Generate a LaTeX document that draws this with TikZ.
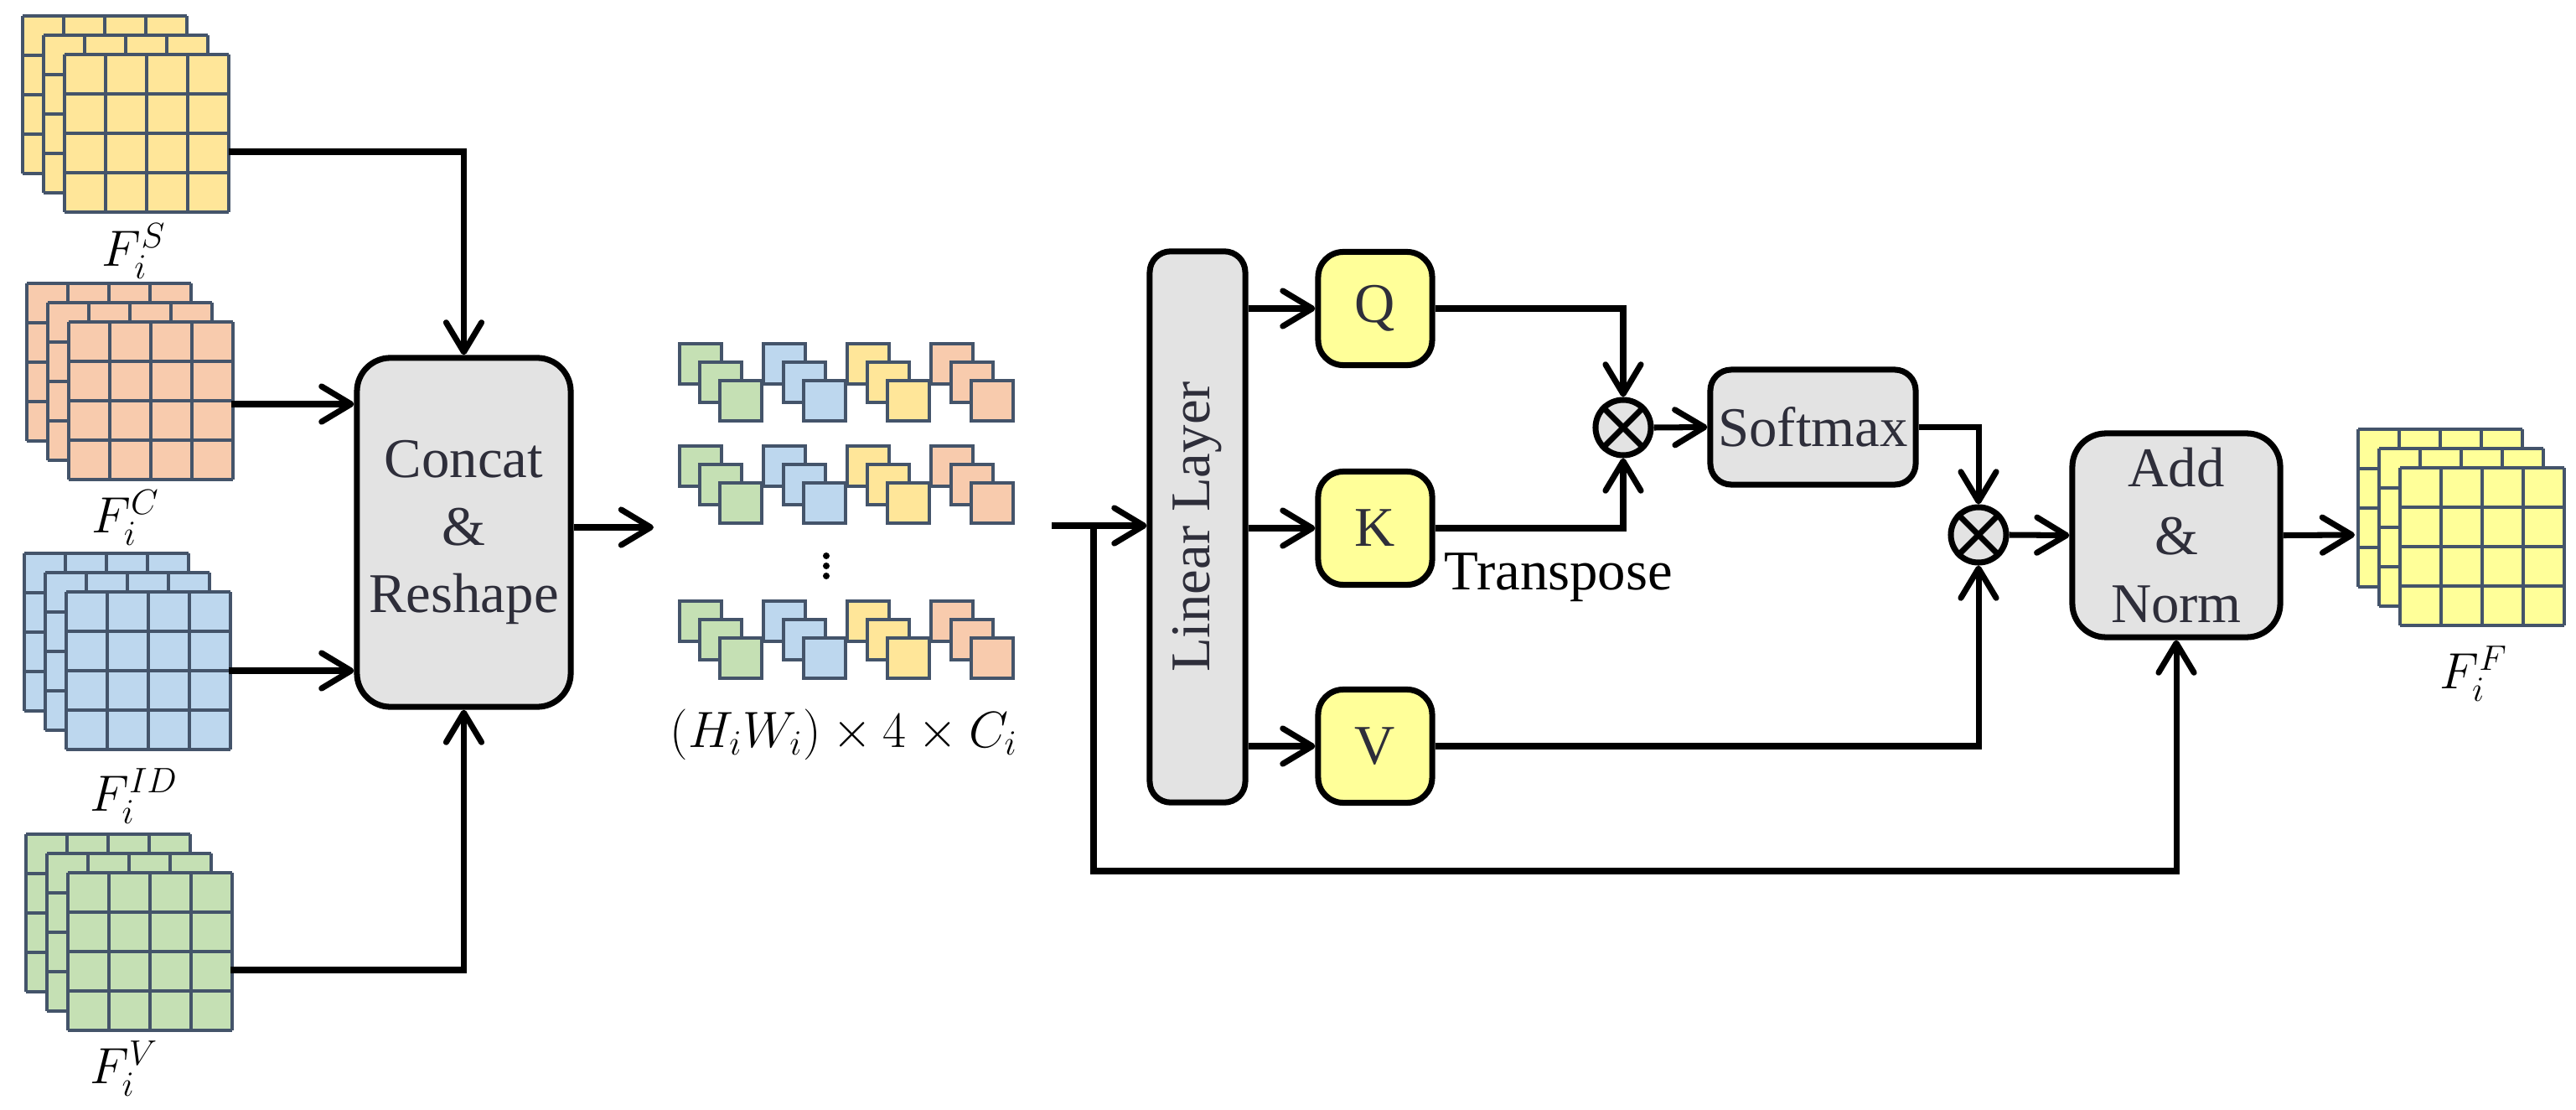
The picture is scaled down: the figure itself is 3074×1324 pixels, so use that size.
\documentclass[tikz,border=0pt]{standalone}
\usepackage{fontspec}
\setmainfont{Liberation Serif}
\newfontfamily\tnr{Liberation Serif}
\usetikzlibrary{arrows.meta}
\definecolor{edge}{HTML}{44546A}
\definecolor{cy}{HTML}{FFE699}
\definecolor{co}{HTML}{F8CBAD}
\definecolor{cb}{HTML}{BDD7EE}
\definecolor{cg}{HTML}{C5E0B4}
\definecolor{cq}{HTML}{FFFF99}
\definecolor{bg}{HTML}{E3E3E3}
\definecolor{tx}{HTML}{2E2E3A}
\newcommand{\fstack}[3]{%
  \foreach \k in {0,1,2}{
    \begin{scope}[shift={(#1+25*\k,#2+23*\k)}]
      \fill[#3] (0,0) rectangle (196,188);
      \foreach \i in {0,...,4}{\draw[fm] (49*\i,0)--(49*\i,188); \draw[fm] (0,47*\i)--(196,47*\i);}
    \end{scope}}}
\newcommand{\tokrow}[1]{%
  \foreach \c [count=\g from 0] in {cg,cb,cy,co}{
    \foreach \k in {0,1,2}{
      \filldraw[fill=\c,draw=edge,line width=1.3pt] (811+100*\g+24*\k,#1+22*\k) rectangle ++(50,48);}}}
\tikzset{
  fm/.style={draw=edge,line width=1.1pt},
  arr/.style={line width=2pt,-{Straight Barb[length=10pt,width=12pt,line cap=round,line join=round]}},
  box/.style={draw,line width=2pt,rounded corners=0.4cm,fill=bg,text=tx,align=center,font=\tnr\fontsize{19}{23}\selectfont,inner sep=0pt},
  qkv/.style={draw,line width=2pt,rounded corners=0.3cm,fill=cq,text=tx,font=\tnr\fontsize{19}{23}\selectfont,minimum width=1.36cm,minimum height=1.35cm},
  ot/.style={draw,circle,line width=2pt,fill=bg,minimum size=0.66cm,inner sep=0pt},
  lab/.style={font=\tnr\fontsize{18}{22}\selectfont,inner sep=0pt}
}
\begin{document}
\begin{tikzpicture}[x=0.01cm,y=-0.01cm]
\useasboundingbox (0,0) rectangle (3074,1324);
% feature stacks
\fstack{27}{19}{cy}
\fstack{32}{338}{co}
\fstack{29}{660}{cb}
\fstack{31}{995}{cg}
\fstack{2814}{512}{cq}
\coordinate (ys) at (273,181);
\coordinate (os) at (276,482);
\coordinate (bs) at (273,800);
\coordinate (gs) at (275,1157);
\node[lab] (ls) at (160,300) {$F_i^S$};
\node[lab] (lc) at (150,618) {$F_i^C$};
\node[lab] (lid) at (160,950) {$F_i^{ID}$};
\node[lab] (lv) at (148,1275) {$F_i^V$};
\node[lab] (lf) at (2952,804) {$F_i^F$};
% concat
\node[box,minimum width=2.55cm,minimum height=4.16cm] (cat) at (553.5,635) {Concat\\\&\\Reshape};
\draw[arr] (ys) -| (cat.north);
\draw[arr] (os) -- (os -| cat.west);
\draw[arr] (bs) -- (bs -| cat.west);
\draw[arr] (gs) -| (cat.south);
% tokens
\tokrow{410}
\tokrow{532}
\tokrow{717}
\foreach \yy in {663,675,687}{\fill (986,\yy) circle (4);}
\node[lab] (tl) at (1007,876) {$(H_iW_i)\times 4\times C_i$};
\coordinate (te) at (780,629);
\draw[arr] (cat.east |- te) -- (te);
% attention
\node[box,minimum width=1.14cm,minimum height=6.57cm,rounded corners=0.25cm] (lin) at (1429,628.5) {\rotatebox{90}{Linear Layer}};
\coordinate (in) at (1255,627);
\coordinate (br) at (1305,627);
\draw[arr] (in) -- (in -| lin.west);
\node[qkv] (Q) at (1641,368) {Q};
\node[qkv] (K) at (1641,630) {K};
\node[qkv] (V) at (1641,890) {V};
\draw[arr] (lin.east |- Q) -- (Q.west);
\draw[arr] (lin.east |- K) -- (K.west);
\draw[arr] (lin.east |- V) -- (V.west);
\node[font=\tnr\fontsize{19}{23}\selectfont,anchor=base west,inner sep=0pt] (tr) at (1723,703) {Transpose};
\node[ot] (o1) at (1937,510) {};
\draw[line width=2pt] (o1.north west)--(o1.south east) (o1.north east)--(o1.south west);
\node[box,minimum width=2.45cm,minimum height=1.37cm,rounded corners=0.25cm] (sm) at (2163.5,509.5) {Softmax};
\node[ot] (o2) at (2361,638) {};
\draw[line width=2pt] (o2.north west)--(o2.south east) (o2.north east)--(o2.south west);
\node[box,minimum width=2.48cm,minimum height=2.43cm] (add) at (2597,638.5) {Add\\\&\\Norm};
\draw[arr] (Q.east) -| (o1.north);
\draw[arr] (K.east) -| (o1.south);
\draw[arr] (o1.east) -- (sm.west);
\draw[arr] (sm.east) -| (o2.north);
\draw[arr] (V.east) -| (o2.south);
\draw[arr] (o2.east) -- (add.west);
\coordinate (fo) at (2810,638);
\draw[arr] (add.east) -- (fo);
\coordinate (bot) at (1305,1039);
\draw[arr] (br) -- (bot) -| (add.south);
\end{tikzpicture}
\end{document}
